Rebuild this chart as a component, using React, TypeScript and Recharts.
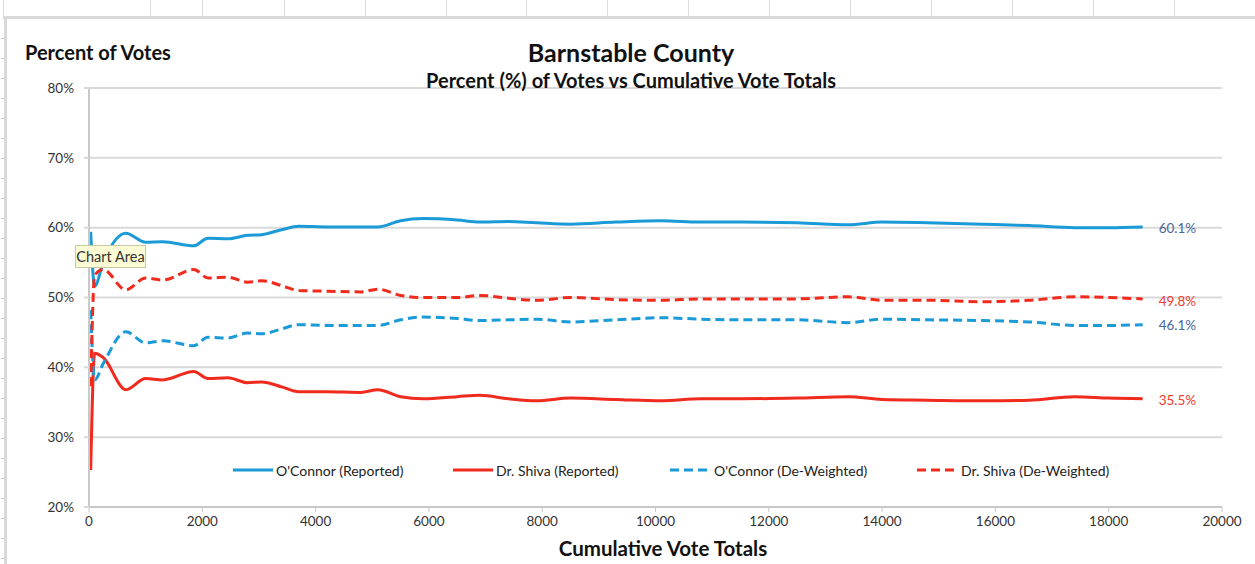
import React from 'react';
import { LineChart, Line, XAxis, YAxis, CartesianGrid } from 'recharts';

// Cumulative vote totals (x)
const votes = [30, 100, 250, 650, 1000, 1300, 1850, 2100, 2450, 2800, 3050, 3400, 3700, 4200, 4800, 5100, 5500, 5900, 6500, 6900, 7400, 7900, 8500, 9300, 10100, 10800, 11500, 12500, 13400, 14000, 14800, 15800, 16600, 17400, 18000, 18600];

// Percent of votes (y)
const oconnorReported = [59.4, 51.6, 55.0, 59.2, 57.9, 58.0, 57.4, 58.5, 58.4, 58.9, 59.0, 59.7, 60.2, 60.1, 60.1, 60.1, 61.0, 61.3, 61.1, 60.8, 60.9, 60.7, 60.5, 60.8, 61.0, 60.8, 60.8, 60.7, 60.4, 60.8, 60.7, 60.5, 60.3, 60.0, 60.0, 60.1];
const shivaReported = [25.3, 42.0, 41.4, 36.8, 38.4, 38.2, 39.4, 38.4, 38.5, 37.8, 37.9, 37.2, 36.5, 36.5, 36.4, 36.8, 35.8, 35.5, 35.8, 36.0, 35.5, 35.2, 35.6, 35.4, 35.2, 35.5, 35.5, 35.6, 35.8, 35.4, 35.3, 35.2, 35.3, 35.8, 35.6, 35.5];
const oconnorDeweighted = [48.2, 38.2, 40.5, 45.1, 43.5, 43.8, 43.1, 44.3, 44.2, 44.9, 44.8, 45.5, 46.1, 46.0, 46.0, 46.0, 46.8, 47.2, 47.0, 46.7, 46.8, 46.9, 46.5, 46.8, 47.1, 46.9, 46.8, 46.8, 46.4, 46.9, 46.8, 46.7, 46.5, 46.0, 46.0, 46.1];
const shivaDeweighted = [37.3, 53.2, 54.0, 51.1, 52.8, 52.5, 54.0, 52.8, 52.9, 52.2, 52.4, 51.7, 51.0, 50.9, 50.8, 51.2, 50.3, 50.0, 50.0, 50.3, 49.9, 49.6, 50.0, 49.7, 49.6, 49.8, 49.8, 49.8, 50.1, 49.6, 49.6, 49.4, 49.6, 50.1, 50.0, 49.8];

const xTicks = [0, 2000, 4000, 6000, 8000, 10000, 12000, 14000, 16000, 18000, 20000];
const yTicks = [20, 30, 40, 50, 60, 70, 80];
const seriesNames = ["O'Connor (Reported)", 'Dr. Shiva (Reported)', "O'Connor (De-Weighted)", 'Dr. Shiva (De-Weighted)'];
const endLabels = ['60.1%', '35.5%', '46.1%', '49.8%'];

const BLUE = '#1b9ad8';
const RED = '#f02a1c';
const BLUE_LABEL = '#4a6597';
const RED_LABEL = '#f03a2e';
const GRID = '#d9d9d9';
const FONT = 'Lato, "Open Sans", sans-serif';

const data = votes.map((v, i) => ({
  votes: v,
  oR: oconnorReported[i],
  sR: shivaReported[i],
  oD: oconnorDeweighted[i],
  sD: shivaDeweighted[i],
}));

const makeEndLabel = (text: string, color: string, dy: number) => (props: any) => {
  const { x, y, index } = props;
  if (index !== data.length - 1) return <g />;
  return (
    <text x={x + 16} y={y + dy} fill={color} fontSize={13.5} fontFamily={FONT} dominantBaseline="central">
      {text}
    </text>
  );
};

const legendItems = [
  { name: seriesNames[0], color: BLUE, dash: false, left: 233 },
  { name: seriesNames[1], color: RED, dash: false, left: 453 },
  { name: seriesNames[2], color: BLUE, dash: true, left: 670 },
  { name: seriesNames[3], color: RED, dash: true, left: 917 },
];

const sheetCols = [150, 202, 284, 365, 446, 526, 607, 688, 769, 850, 931, 1012, 1093, 1174];
const sheetRows = Array.from({ length: 27 }, (_, i) => 38 + i * 20);

export default function App() {
  return (
    <div style={{ position: 'relative', width: 1255, height: 564, background: '#fff', fontFamily: FONT, overflow: 'hidden' }}>
      <style>{`body{margin:0}`}</style>
      {/* spreadsheet frame */}
      <div style={{ position: 'absolute', left: 3, right: 0, top: 16, height: 3, background: '#d9d9d9' }} />
      {sheetCols.map((c) => (
        <div key={c} style={{ position: 'absolute', left: c, top: 0, width: 1, height: 16, background: '#dcdcdc' }} />
      ))}
      <div style={{ position: 'absolute', left: 3, top: 0, width: 1, height: 16, background: '#dcdcdc' }} />
      <div style={{ position: 'absolute', left: 4, top: 17, width: 3, bottom: 0, background: '#d9d9d9' }} />
      {sheetRows.map((r) => (
        <div key={r} style={{ position: 'absolute', left: 1, top: r, width: 3, height: 1, background: '#cfcfcf' }} />
      ))}

      <LineChart width={1255} height={564} data={data} margin={{ top: 88, right: 33, bottom: 27, left: 44 }} style={{ position: 'absolute', left: 0, top: 0 }}>
        <CartesianGrid horizontal vertical={false} stroke={GRID} strokeWidth={2} />
        <XAxis
          dataKey="votes"
          type="number"
          domain={[0, 20000]}
          ticks={xTicks}
          height={30}
          tickSize={5}
          tickMargin={4}
          axisLine={{ stroke: '#c8c8c8', strokeWidth: 2 }}
          tickLine={{ stroke: '#c8c8c8', strokeWidth: 1 }}
          tick={{ fill: '#333', fontSize: 13.5, fontFamily: FONT }}
          interval={0}
        />
        <YAxis
          type="number"
          domain={[20, 80]}
          ticks={yTicks}
          width={45}
          tickSize={5}
          tickMargin={10}
          axisLine={{ stroke: '#c8c8c8', strokeWidth: 2 }}
          tickLine={{ stroke: GRID, strokeWidth: 2 }}
          tick={{ fill: '#333', fontSize: 13.5, fontFamily: FONT }}
          tickFormatter={(v: number) => `${v}%`}
          interval={0}
        />
        <Line type="monotone" dataKey="oR" name={seriesNames[0]} stroke={BLUE} strokeWidth={3} dot={false} isAnimationActive={false} label={makeEndLabel(endLabels[0], BLUE_LABEL, 1)} />
        <Line type="monotone" dataKey="sR" name={seriesNames[1]} stroke={RED} strokeWidth={3} dot={false} isAnimationActive={false} label={makeEndLabel(endLabels[1], RED_LABEL, 1)} />
        <Line type="monotone" dataKey="oD" name={seriesNames[2]} stroke={BLUE} strokeWidth={3} strokeDasharray="9 5" dot={false} isAnimationActive={false} label={makeEndLabel(endLabels[2], BLUE_LABEL, 0)} />
        <Line type="monotone" dataKey="sD" name={seriesNames[3]} stroke={RED} strokeWidth={3} strokeDasharray="9 5" dot={false} isAnimationActive={false} label={makeEndLabel(endLabels[3], RED_LABEL, 2)} />
      </LineChart>

      {/* titles */}
      <div style={{ position: 'absolute', left: 25, top: 40, fontSize: 20, fontWeight: 700, color: '#111', whiteSpace: 'nowrap' }}>Percent of Votes</div>
      <div style={{ position: 'absolute', left: 0, width: 1262, top: 37, textAlign: 'center', fontSize: 25, fontWeight: 700, color: '#111', whiteSpace: 'nowrap' }}>Barnstable County</div>
      <div style={{ position: 'absolute', left: 0, width: 1262, top: 68, textAlign: 'center', fontSize: 20, fontWeight: 700, color: '#111', whiteSpace: 'nowrap' }}>Percent (%) of Votes vs Cumulative Vote Totals</div>
      <div style={{ position: 'absolute', left: 0, width: 1326, top: 536, textAlign: 'center', fontSize: 20.5, fontWeight: 700, color: '#111', whiteSpace: 'nowrap' }}>Cumulative Vote Totals</div>

      {/* legend */}
      {legendItems.map((it) => (
        <div key={it.name} style={{ position: 'absolute', left: it.left, top: 461, height: 18, display: 'flex', alignItems: 'center', whiteSpace: 'nowrap' }}>
          <svg width={it.dash ? 37 : 40} height={6} style={{ marginRight: it.dash ? 7 : 3 }}>
            <line x1={0} y1={3} x2={it.dash ? 37 : 40} y2={3} stroke={it.color} strokeWidth={3} strokeDasharray={it.dash ? '9 5' : undefined} />
          </svg>
          <span style={{ fontSize: 14, color: '#222' }}>{it.name}</span>
        </div>
      ))}

      {/* Excel hover tooltip captured in screenshot */}
      <div style={{ position: 'absolute', left: 75, top: 245, width: 71, height: 23, background: '#fbfbd4', border: '1px solid #c9c9a8', boxSizing: 'border-box', fontSize: 14.5, color: '#333', display: 'flex', alignItems: 'center', justifyContent: 'center', whiteSpace: 'nowrap' }}>Chart Area</div>
    </div>
  );
}
